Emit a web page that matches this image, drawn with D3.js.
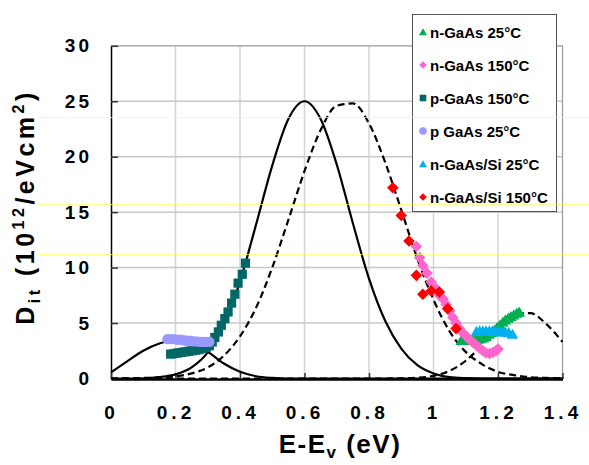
<!DOCTYPE html>
<html>
<head>
<meta charset="UTF-8">
<title>Dit vs E-Ev</title>
<script src="https://cdn.jsdelivr.net/npm/d3@7"></script>
<style>
  body { margin: 0; background: #fff; }
  svg { display: block; font-family: "Liberation Sans", Arial, sans-serif; font-weight: bold; }
</style>
</head>
<body>
<div id="chart"></div>
<script>
// model curves, sampled every 0.05 eV
var energy = [0, 0.05, 0.1, 0.15, 0.2, 0.25, 0.3, 0.35, 0.4, 0.45, 0.5, 0.55, 0.6, 0.65, 0.7,
              0.75, 0.8, 0.85, 0.9, 0.95, 1.0, 1.05, 1.1, 1.15, 1.2, 1.25, 1.3, 1.35, 1.4];
var solidMain = [0, 0, 0.02, 0.12, 0.37, 1.0, 2.35, 4.85, 8.75, 13.9, 19.2, 23.4, 25, 23.4, 19.3,
                 14.0, 9.0, 5.2, 2.7, 1.2, 0.45, 0.12, 0.03, 0, 0, 0, 0, 0, 0];
var solidLow  = [0.55, 1.55, 2.5, 3.15, 3.45, 3.1, 2.4, 1.35, 0.6, 0.2, 0.05, 0, 0, 0, 0,
                 0, 0, 0, 0, 0, 0, 0, 0, 0, 0, 0, 0, 0, 0];
var dashMain  = [0, 0.02, 0.05, 0.1, 0.2, 0.46, 1.0, 2.06, 3.8, 6.4, 10.0, 14.3, 18.7, 22.4, 24.6,
                 24.8, 23.0, 19.5, 15.2, 10.8, 7.1, 4.25, 2.4, 1.3, 0.6, 0.3, 0.12, 0.05, 0.02];
var dashHigh  = [0, 0, 0, 0, 0, 0, 0, 0, 0, 0, 0, 0, 0, 0, 0,
                 0, 0, 0, 0.02, 0.07, 0.24, 0.69, 1.6, 3.0, 4.6, 5.8, 5.9, 4.9, 3.3];

// measured points [E-Ev, Dit]
var nGaAs25 = [[1.086,3.45],[1.095,3.45],[1.104,3.45],[1.112,3.5],[1.121,3.5],[1.13,3.5],[1.138,3.55],
               [1.147,3.6],[1.155,3.7],[1.163,3.8],[1.172,4.0],[1.18,4.15],[1.189,4.35],[1.197,4.6],
               [1.206,4.85],[1.215,5.1],[1.223,5.3],[1.232,5.45],[1.24,5.6],[1.249,5.75],[1.258,5.9],[1.266,6.0]];
var nGaAs150 = [[0.947,11.9],[0.957,10.9],[0.967,10.2],[0.98,9.5],[0.993,8.7],[1.008,8.1],[1.018,7.5],
                [1.029,7.2],[1.039,6.7],[1.05,6.1],[1.06,5.5],[1.07,5.0],[1.08,4.5],[1.091,4.1],[1.102,3.8],
                [1.112,3.5],[1.122,3.25],[1.133,3.0],[1.143,2.75],[1.153,2.5],[1.163,2.3],[1.174,2.25],
                [1.184,2.35],[1.194,2.5],[1.2,2.65]];
var pGaAs150 = [[0.185,2.2],[0.196,2.25],[0.207,2.3],[0.218,2.35],[0.229,2.4],[0.24,2.45],[0.251,2.5],
                [0.262,2.55],[0.273,2.6],[0.284,2.7],[0.295,2.8],[0.305,2.95],[0.314,3.3],[0.322,3.7],
                [0.333,4.2],[0.342,4.8],[0.353,5.4],[0.363,6.0],[0.374,6.8],[0.384,7.6],[0.394,8.6],
                [0.407,9.4],[0.417,10.4]];
var pGaAs25 = [[0.175,3.55],[0.185,3.55],[0.195,3.55],[0.205,3.5],[0.215,3.5],[0.225,3.45],[0.235,3.4],
               [0.245,3.4],[0.255,3.35],[0.265,3.35],[0.275,3.3],[0.285,3.3],[0.295,3.3],[0.305,3.3]];
var nGaAsSi25 = [[1.133,4.25],[1.143,4.3],[1.153,4.3],[1.163,4.3],[1.173,4.3],[1.183,4.3],[1.193,4.25],
                 [1.203,4.25],[1.213,4.2],[1.223,4.2],[1.233,4.15],[1.245,4.0]];
var nGaAsSi150 = [[0.874,17.2],[0.9,14.7],[0.924,12.4],[0.947,9.3],[0.967,7.6],[0.993,7.9],
                  [1.018,7.8],[1.044,6.3],[1.07,4.5]];

var xTicks = [0, 0.2, 0.4, 0.6, 0.8, 1.0, 1.2, 1.4];
var yTicks = [0, 5, 10, 15, 20, 25, 30];
var seriesNames = ["n-GaAs 25°C", "n-GaAs 150°C", "p-GaAs 150°C", "p GaAs 25°C", "n-GaAs/Si 25°C", "n-GaAs/Si 150°C"];

var width = 589, height = 465;
var svg = d3.select("#chart").append("svg")
            .attr("width", width)
            .attr("height", height);

var x = d3.scaleLinear().domain([0, 1.4]).range([111, 562.5]);
var y = d3.scaleLinear().domain([0, 30]).range([378.5, 45.8]);

// marker shapes
function shape(kind, r) {
  if (kind == "tri") return "M0," + (-r) + "L" + (r * 1.05) + "," + (r * 0.85) + "L" + (-r * 1.05) + "," + (r * 0.85) + "Z";
  if (kind == "dia") return "M0," + (-r) + "L" + r + ",0L0," + r + "L" + (-r) + ",0Z";
  if (kind == "sq") return "M" + (-r) + "," + (-r) + "h" + (2 * r) + "v" + (2 * r) + "h" + (-2 * r) + "Z";
  return d3.symbol(d3.symbolCircle, Math.PI * r * r)();
}

var series = [
  { name: seriesNames[0], pts: nGaAs25,    color: "#00b050", kind: "tri", r: 5.5 },
  { name: seriesNames[1], pts: nGaAs150,   color: "#ff66cc", kind: "dia", r: 5.8 },
  { name: seriesNames[2], pts: pGaAs150,   color: "#006666", kind: "sq",  r: 4.6 },
  { name: seriesNames[3], pts: pGaAs25,    color: "#9999ff", kind: "cir", r: 5.2 },
  { name: seriesNames[4], pts: nGaAsSi25,  color: "#00b0f0", kind: "tri", r: 5.5 },
  { name: seriesNames[5], pts: nGaAsSi150, color: "#ff0000", kind: "dia", r: 5.8 }
];

// gridlines
svg.append("g").selectAll("line.vg")
   .data(xTicks.slice(1, -1))
   .enter().append("line")
   .attr("x1", function (d) { return x(d); }).attr("x2", function (d) { return x(d); })
   .attr("y1", y(30)).attr("y2", y(0))
   .style("stroke", "#d4d4d4").style("stroke-width", 1.5);
svg.append("g").selectAll("line.hg")
   .data(yTicks.slice(1, -1))
   .enter().append("line")
   .attr("x1", x(0)).attr("x2", x(1.4))
   .attr("y1", function (d) { return y(d); }).attr("y2", function (d) { return y(d); })
   .style("stroke", "#c8c8c8").style("stroke-width", 1.5);

// plot border top / right
svg.append("path")
   .attr("d", "M" + x(0) + "," + y(30) + "H" + x(1.4) + "V" + y(0))
   .style("fill", "none").style("stroke", "#9a9a9a").style("stroke-width", 1.2);

// axes
var yAxis = d3.axisLeft(y).tickValues(yTicks).tickSizeInner(-7).tickSizeOuter(0).tickPadding(19);
var xAxis = d3.axisBottom(x).tickValues(xTicks).tickSizeInner(-6).tickSizeOuter(0).tickPadding(27)
              .tickFormat(function (d) { return d == 1 ? "1" : d == 0 ? "0" : d3.format(".1f")(d); });

var gy = svg.append("g").attr("transform", "translate(" + x(0) + ",0)").call(yAxis);
gy.select(".domain").style("stroke", "#000").style("stroke-width", 1.5);
gy.selectAll(".tick line").style("stroke", "#333").style("stroke-width", 1.5);
gy.selectAll(".tick text").style("font-size", "19px").style("font-family", "Liberation Sans, Arial")
  .style("font-weight", "bold").style("letter-spacing", "3px").attr("fill", "#000");

var gx = svg.append("g").attr("transform", "translate(0," + (y(0) + 0.5) + ")").call(xAxis);
gx.select(".domain").style("stroke", "#000").style("stroke-width", 2.5);
gx.selectAll(".tick line").style("stroke", "#333").style("stroke-width", 1.5);
gx.selectAll(".tick text").style("font-size", "19px").style("font-family", "Liberation Sans, Arial")
  .style("font-weight", "bold").style("letter-spacing", "4px").attr("fill", "#000");

// curves
var line = d3.line()
  .x(function (d) { return x(d[0]); })
  .y(function (d) { return y(d[1]); })
  .curve(d3.curveMonotoneX);

function pairs(vals) { return energy.map(function (e, i) { return [e, vals[i]]; }); }

var curves = [
  { vals: solidLow,  dash: null },
  { vals: solidMain, dash: null },
  { vals: dashMain,  dash: "7,4" },
  { vals: dashHigh,  dash: "7,4" }
];
svg.append("g").selectAll("path")
   .data(curves)
   .enter().append("path")
   .attr("d", function (d) { return line(pairs(d.vals)); })
   .style("fill", "none")
   .style("stroke", "#000")
   .style("stroke-width", 2.2)
   .style("stroke-dasharray", function (d) { return d.dash; });

// markers (drawn in an order so the red points sit on top)
var order = [2, 3, 0, 4, 1, 5];
order.forEach(function (k) {
  var s = series[k];
  svg.append("g").selectAll("path")
     .data(s.pts)
     .enter().append("path")
     .attr("d", shape(s.kind, s.r))
     .attr("transform", function (d) { return "translate(" + x(d[0]) + "," + y(d[1]) + ")"; })
     .style("fill", s.color);
});

// legend
var legend = svg.append("g");
legend.append("rect")
      .attr("x", 412.5).attr("y", 14.5).attr("width", 144).attr("height", 197)
      .style("fill", "#fff").style("stroke", "#555").style("stroke-width", 1);
var items = legend.selectAll("g.item")
      .data(series)
      .enter().append("g")
      .attr("transform", function (d, i) { return "translate(423," + (32 + i * 33) + ")"; });
items.append("path")
     .attr("d", function (d) { return shape(d.kind, d.kind == "sq" ? 3.3 : 3.8); })
     .style("fill", function (d) { return d.color; });
items.append("text")
     .attr("x", 7).attr("y", 5.5)
     .style("font-size", "15px")
     .text(function (d) { return d.name; });

// axis titles
svg.append("text")
   .attr("x", 340).attr("y", 453)
   .attr("text-anchor", "middle")
   .style("font-size", "26px").style("letter-spacing", "1.5px")
   .html('E-E<tspan dy="5" style="font-size:17px">v</tspan><tspan dy="-5"> (eV)</tspan>');

svg.append("text")
   .attr("transform", "translate(34,207) rotate(-90)")
   .attr("text-anchor", "middle")
   .style("font-size", "25px").style("letter-spacing", "3.5px")
   .html('D<tspan dy="6" style="font-size:16px">it</tspan><tspan dy="-6"> (10</tspan>' +
         '<tspan dy="-10" style="font-size:16px">12</tspan><tspan dy="10">/eVcm</tspan>' +
         '<tspan dy="-10" style="font-size:16px">2</tspan><tspan dy="10">)</tspan>');

// faint yellow scan lines across the figure
svg.append("g").selectAll("line")
   .data([117, 204, 254])
   .enter().append("line")
   .attr("x1", 38).attr("x2", width)
   .attr("y1", function (d) { return d + 0.5; }).attr("y2", function (d) { return d + 0.5; })
   .style("stroke", "#ffff66").style("stroke-opacity", 0.7).style("stroke-width", 1);
</script>
</body>
</html>
